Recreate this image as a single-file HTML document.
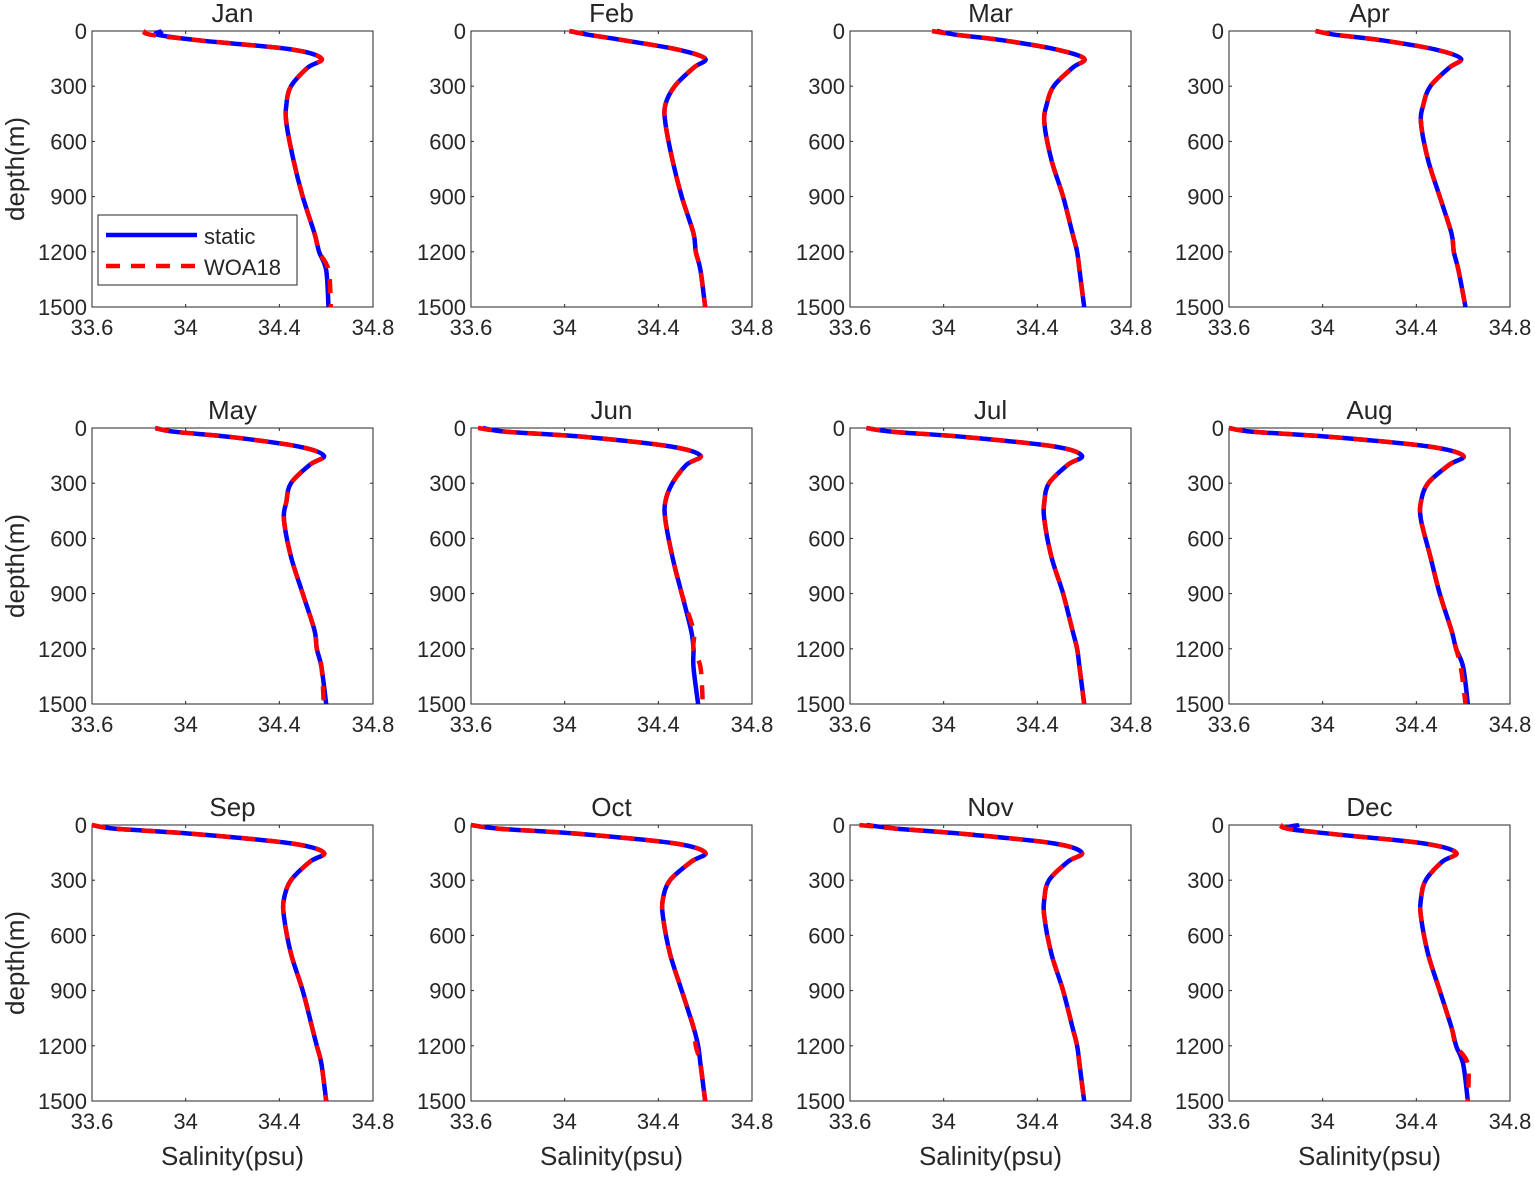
<!DOCTYPE html>
<html><head><meta charset="utf-8">
<style>
body{margin:0;background:#fff;}
svg text{font-family:"Liberation Sans",sans-serif;fill:#262626;}
</style></head>
<body>
<svg id="chart" width="1535" height="1174" viewBox="0 0 1535 1174" xmlns="http://www.w3.org/2000/svg"></svg>
<script>
const months = ["Jan","Feb","Mar","Apr","May","Jun","Jul","Aug","Sep","Oct","Nov","Dec"];
const depths = [0, 20, 50, 100, 150, 200, 300, 400, 500, 700, 900, 1100, 1200, 1300, 1500];
const staticSal = [
 [33.90,33.88,34.05,34.45,34.58,34.52,34.45,34.43,34.43,34.46,34.50,34.55,34.57,34.60,34.61],
 [34.02,34.10,34.25,34.48,34.60,34.55,34.47,34.43,34.43,34.46,34.50,34.55,34.56,34.58,34.60],
 [33.97,34.05,34.25,34.48,34.60,34.55,34.47,34.44,34.43,34.46,34.51,34.55,34.57,34.58,34.60],
 [33.97,34.05,34.25,34.48,34.59,34.54,34.46,34.43,34.42,34.45,34.50,34.55,34.56,34.58,34.61],
 [33.87,33.95,34.20,34.48,34.59,34.53,34.45,34.43,34.42,34.45,34.50,34.55,34.56,34.58,34.60],
 [33.65,33.75,34.10,34.45,34.58,34.52,34.46,34.43,34.43,34.46,34.50,34.54,34.55,34.55,34.57],
 [33.67,33.78,34.10,34.47,34.59,34.53,34.45,34.43,34.43,34.46,34.51,34.55,34.57,34.58,34.60],
 [33.60,33.70,34.05,34.45,34.60,34.54,34.45,34.42,34.42,34.46,34.50,34.55,34.57,34.60,34.62],
 [33.60,33.70,34.05,34.45,34.59,34.53,34.45,34.42,34.42,34.45,34.50,34.54,34.56,34.58,34.60],
 [33.60,33.72,34.08,34.47,34.60,34.54,34.45,34.42,34.42,34.45,34.50,34.55,34.57,34.58,34.60],
 [33.67,33.80,34.10,34.47,34.59,34.53,34.45,34.43,34.43,34.46,34.51,34.55,34.57,34.58,34.60],
 [33.90,33.85,34.05,34.43,34.57,34.51,34.44,34.42,34.42,34.45,34.50,34.55,34.57,34.60,34.62]
];
const woaSal = [
 [33.82,33.85,34.05,34.45,34.58,34.52,34.45,34.43,34.43,34.46,34.50,34.55,34.57,34.61,34.62],
 [34.02,34.10,34.25,34.48,34.60,34.55,34.47,34.43,34.43,34.46,34.50,34.55,34.56,34.58,34.60],
 [33.95,34.05,34.25,34.48,34.60,34.55,34.47,34.44,34.43,34.46,34.51,34.55,34.57,34.58,34.60],
 [33.97,34.05,34.25,34.48,34.59,34.54,34.46,34.43,34.42,34.45,34.50,34.55,34.56,34.58,34.61],
 [33.87,33.95,34.20,34.48,34.59,34.53,34.45,34.43,34.42,34.45,34.50,34.55,34.56,34.58,34.59],
 [33.63,33.75,34.10,34.45,34.58,34.52,34.46,34.43,34.43,34.46,34.50,34.55,34.55,34.58,34.59],
 [33.67,33.78,34.10,34.47,34.59,34.53,34.45,34.43,34.43,34.46,34.51,34.55,34.57,34.58,34.60],
 [33.60,33.70,34.05,34.45,34.60,34.54,34.45,34.42,34.42,34.46,34.50,34.55,34.57,34.59,34.61],
 [33.60,33.70,34.05,34.45,34.59,34.53,34.45,34.42,34.42,34.45,34.50,34.54,34.56,34.58,34.60],
 [33.60,33.72,34.08,34.47,34.60,34.54,34.45,34.42,34.42,34.45,34.50,34.55,34.56,34.58,34.60],
 [33.64,33.80,34.10,34.47,34.59,34.53,34.45,34.43,34.43,34.46,34.51,34.55,34.57,34.58,34.60],
 [33.82,33.85,34.05,34.43,34.57,34.51,34.44,34.42,34.42,34.45,34.50,34.55,34.57,34.62,34.62]
];
const xTicks = [33.6, 34, 34.4, 34.8];
const xTickLabels = ["33.6","34","34.4","34.8"];
const yTicks = [0, 300, 600, 900, 1200, 1500];

const NS = "http://www.w3.org/2000/svg";
const svg = document.getElementById("chart");
function mk(tag, attrs, parent){
  const e = document.createElementNS(NS, tag);
  for (const k in attrs) e.setAttribute(k, attrs[k]);
  (parent||svg).appendChild(e); return e;
}
function smoothPath(p){
  let d = "M" + p[0][0].toFixed(1) + "," + p[0][1].toFixed(1);
  for (let i = 0; i < p.length - 1; i++) {
    const p0 = p[Math.max(0, i-1)], p1 = p[i], p2 = p[i+1], p3 = p[Math.min(p.length-1, i+2)];
    const c1x = p1[0] + (p2[0]-p0[0])/6, c1y = p1[1] + (p2[1]-p0[1])/6;
    const c2x = p2[0] - (p3[0]-p1[0])/6, c2y = p2[1] - (p3[1]-p1[1])/6;
    d += " C" + c1x.toFixed(1) + "," + c1y.toFixed(1) + " " + c2x.toFixed(1) + "," + c2y.toFixed(1) + " " + p2[0].toFixed(1) + "," + p2[1].toFixed(1);
  }
  return d;
}
const colX = [92, 471, 850, 1229], rowY = [31, 428, 825];
const W = 281, H = 276;
months.forEach((m, i) => {
  const x0 = colX[i % 4], y0 = rowY[Math.floor(i / 4)];
  const g = mk("g", {});
  
  
  const sx = v => x0 + (v - 33.6) / 1.2 * W;
  const sy = d => y0 + d / 1500 * H;
  const frame = mk("rect", {x:x0, y:y0, width:W, height:H, fill:"#fff", stroke:"#262626", "stroke-width":1}, g);
  
  
  xTicks.forEach((t, k) => {
    const x = sx(t);
    mk("line", {x1:x, x2:x, y1:y0+H, y2:y0+H-3, stroke:"#262626"}, g);
    mk("line", {x1:x, x2:x, y1:y0, y2:y0+3, stroke:"#262626"}, g);
    const tx = mk("text", {x:x, y:y0+H+28, "text-anchor":"middle", "font-size":22}, g);
    tx.textContent = xTickLabels[k];
    
    
  });
  yTicks.forEach(t => {
    const y = sy(t);
    mk("line", {x1:x0, x2:x0+3, y1:y, y2:y, stroke:"#262626"}, g);
    mk("line", {x1:x0+W, x2:x0+W-3, y1:y, y2:y, stroke:"#262626"}, g);
    const tx = mk("text", {x:x0-5, y:y+8, "text-anchor":"end", "font-size":22}, g);
    tx.textContent = t;
    
    
  });
  const title = mk("text", {x:x0+W/2, y:y0-9, "text-anchor":"middle", "font-size":26}, g);
  title.textContent = m;
  
  
  const pts = arr => arr.map((v, k) => [sx(v), sy(depths[k])]);
  const l1 = mk("path", {d:smoothPath(pts(staticSal[i])), fill:"none", stroke:"#0000ff", "stroke-width":4.5, "stroke-linejoin":"round"}, g);
  
  
  const l2 = mk("path", {d:smoothPath(pts(woaSal[i])), fill:"none", stroke:"#ff0000", "stroke-width":4.5, "stroke-dasharray":"14,11"}, g);
  
  
  if (i % 4 === 0) {
    const yl = mk("text", {x:0, y:0, "text-anchor":"middle", "font-size":26, transform:`translate(24,${y0+H/2}) rotate(-90)`}, g);
    yl.textContent = "depth(m)";
    
    
  }
  if (i >= 8) {
    const xl = mk("text", {x:x0+W/2, y:1165, "text-anchor":"middle", "font-size":26}, g);
    xl.textContent = "Salinity(psu)";
    
    
  }
});
const lg = mk("g", {});


mk("rect", {x:98, y:215, width:199, height:70, fill:"#fff", stroke:"#262626"}, lg);
mk("line", {x1:106, x2:197, y1:235, y2:235, stroke:"#0000ff", "stroke-width":4.5}, lg);
mk("line", {x1:106, x2:197, y1:266, y2:266, stroke:"#ff0000", "stroke-width":4.5, "stroke-dasharray":"14,11"}, lg);
const t1 = mk("text", {x:204, y:244, "font-size":22}, lg); t1.textContent = "static";


const t2 = mk("text", {x:204, y:275, "font-size":22}, lg); t2.textContent = "WOA18";


</script>
</body></html>
